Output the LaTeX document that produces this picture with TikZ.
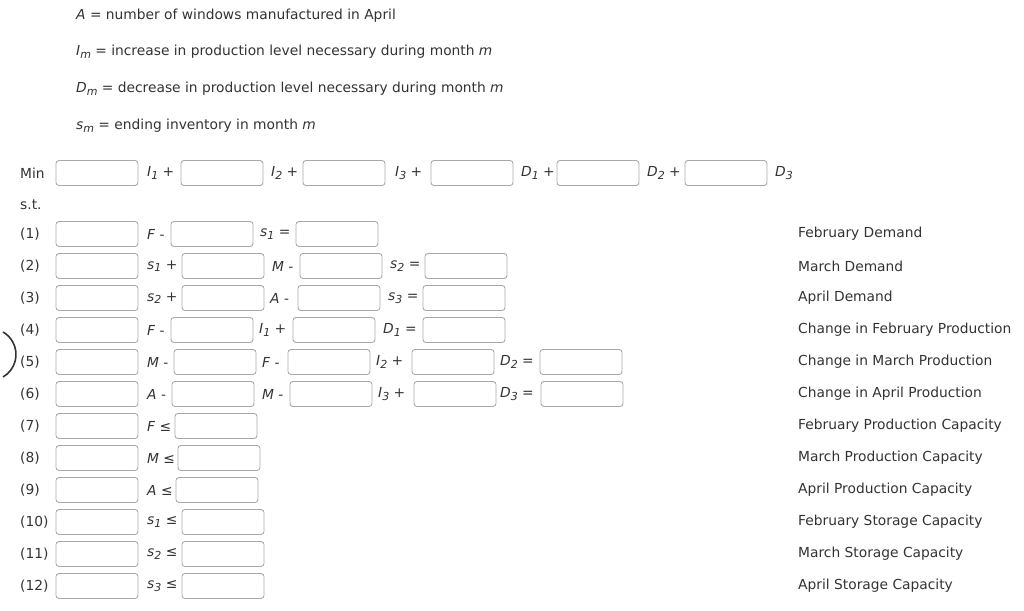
\documentclass[tikz,border=0pt]{standalone}
\usepackage{fontspec}
\setmainfont{DejaVu Sans}
\definecolor{txt}{HTML}{333333}
\definecolor{bord}{HTML}{A9A9A9}
\newcommand\sbs[1]{\raisebox{-2.5pt}{\fontsize{11}{11}\selectfont #1}}
\newcommand\vv[2]{\textit{#1}\sbs{\textit{#2}}}
\tikzset{
 inbox/.style={draw=bord,line width=0.9pt,rounded corners=3pt,minimum width=82pt,minimum height=25pt,inner sep=0pt},
 lab/.style={anchor=west,inner sep=0pt,text=txt,font=\fontsize{13.8}{16}\selectfont},
}
\newcommand\bx[3]{\node[inbox] (#1) at (#2+41,#3) {};}
\newcommand\lb[4]{\node[lab] (#1) at (#2,#3) {#4};}
\begin{document}
\begin{tikzpicture}[x=1pt,y=-1pt]
\useasboundingbox (0,0) rectangle (1024,610);
\draw[txt,line width=1.6pt] (3,377) arc[start angle=60,end angle=-60,radius=26];
\lb{d1}{76}{16}{\textit{A} = number of windows manufactured in April}
\lb{d2}{76}{52}{\vv{I}{m} = increase in production level necessary during month \textit{m}}
\lb{d3}{76}{89}{\vv{D}{m} = decrease in production level necessary during month \textit{m}}
\lb{d4}{76}{126}{\vv{s}{m} = ending inventory in month \textit{m}}
% Min row
\lb{min}{20}{173}{Min}
\bx{m1}{56}{173}\lb{mi1}{147}{173}{\vv{I}{1} +}
\bx{m2}{181}{173}\lb{mi2}{271}{173}{\vv{I}{2} +}
\bx{m3}{303}{173}\lb{mi3}{395}{173}{\vv{I}{3} +}
\bx{m4}{431}{173}\lb{md1}{521}{173}{\vv{D}{1} +}
\bx{m5}{557}{173}\lb{md2}{647}{173}{\vv{D}{2} +}
\bx{m6}{685}{173}\lb{md3}{775}{173}{\vv{D}{3}}
\lb{st}{20}{205}{s.t.}
% row labels and first boxes
\foreach \i/\y in {1/234,2/266,3/298,4/330,5/362,6/394,7/426,8/458,9/490,10/522,11/554,12/586}{
  \node[lab] (n\i) at (20,\y) {(\i)};
  \node[inbox] (b\i) at (97,\y) {};
}
% row 1
\lb{r1a}{147}{234}{\textit{F} -}\bx{r1b}{171}{234}
\lb{r1c}{260}{234}{\vv{s}{1} =}\bx{r1d}{296}{234}
% row 2
\lb{r2a}{147}{266}{\vv{s}{1} +}\bx{r2b}{182}{266}
\lb{r2c}{272}{266}{\textit{M} -}\bx{r2d}{300}{266}
\lb{r2e}{390}{266}{\vv{s}{2} =}\bx{r2f}{425}{266}
% row 3
\lb{r3a}{147}{298}{\vv{s}{2} +}\bx{r3b}{182}{298}
\lb{r3c}{270}{298}{\textit{A} -}\bx{r3d}{298}{298}
\lb{r3e}{388}{298}{\vv{s}{3} =}\bx{r3f}{423}{298}
% row 4
\lb{r4a}{147}{330}{\textit{F} -}\bx{r4b}{171}{330}
\lb{r4c}{259}{330}{\vv{I}{1} +}\bx{r4d}{293}{330}
\lb{r4e}{383}{330}{\vv{D}{1} =}\bx{r4f}{423}{330}
% row 5
\lb{r5a}{147}{362}{\textit{M} -}\bx{r5b}{174}{362}
\lb{r5c}{262}{362}{\textit{F} -}\bx{r5d}{288}{362}
\lb{r5e}{376}{362}{\vv{I}{2} +}\bx{r5f}{412}{362}
\lb{r5g}{500}{362}{\vv{D}{2} =}\bx{r5h}{540}{362}
% row 6
\lb{r6a}{147}{394}{\textit{A} -}\bx{r6b}{172}{394}
\lb{r6c}{262}{394}{\textit{M} -}\bx{r6d}{290}{394}
\lb{r6e}{378}{394}{\vv{I}{3} +}\bx{r6f}{414}{394}
\lb{r6g}{500}{394}{\vv{D}{3} =}\bx{r6h}{541}{394}
% rows 7-12
\lb{r7a}{147}{426}{\textit{F} ≤}\bx{r7b}{175}{426}
\lb{r8a}{147}{458}{\textit{M} ≤}\bx{r8b}{178}{458}
\lb{r9a}{147}{490}{\textit{A} ≤}\bx{r9b}{176}{490}
\lb{r10a}{147}{522}{\vv{s}{1} ≤}\bx{r10b}{182}{522}
\lb{r11a}{147}{554}{\vv{s}{2} ≤}\bx{r11b}{182}{554}
\lb{r12a}{147}{586}{\vv{s}{3} ≤}\bx{r12b}{182}{586}
% right labels
\foreach \t [count=\i] in {February Demand,March Demand,April Demand,Change in February Production,Change in March Production,Change in April Production,February Production Capacity,March Production Capacity,April Production Capacity,February Storage Capacity,March Storage Capacity,April Storage Capacity}{
  \node[lab] (c\i) at (798,202+32*\i) {\t};
}
\end{tikzpicture}
\end{document}
